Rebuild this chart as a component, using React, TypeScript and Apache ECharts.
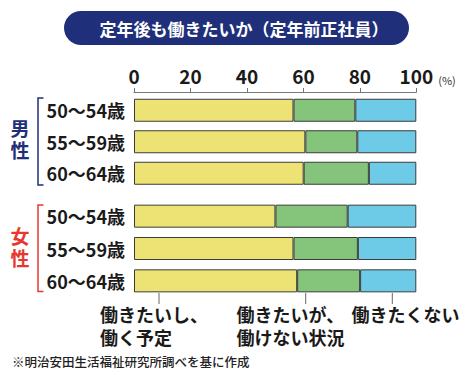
import React, { useEffect, useRef } from "react";
import * as echarts from "echarts";

const categories = ["50～54歳", "55～59歳", "60～64歳"];
const maleWork = [56.5, 60.7, 60.1];
const maleCant = [21.9, 18.4, 23.1];
const maleNot = [21.6, 20.9, 16.8];
const femaleWork = [50.1, 56.5, 57.8];
const femaleCant = [25.6, 22.8, 22.3];
const femaleNot = [24.3, 20.7, 19.9];
const seriesNames = ["働きたいし、働く予定", "働きたいが、働けない状況", "働きたくない"];
const colors = ["#ede375", "#84c47b", "#6ecbe7"];

const FONT = "'Noto Sans CJK JP', 'Noto Sans', sans-serif";

export default function App() {
  const ref = useRef<HTMLDivElement>(null);
  useEffect(() => {
    if (!ref.current) return;
    const chart = echarts.init(ref.current, null, { renderer: "svg" });
    const mk = (name: string, data: number[], idx: number, color: string) => ({
      type: "bar",
      name,
      stack: "s" + idx,
      xAxisIndex: idx,
      yAxisIndex: idx,
      data,
      barWidth: 23,
      itemStyle: { color, borderColor: "#3b3b3b", borderWidth: 1 },
    });
    const navy = "#1f2f7a";
    const red = "#e8382e";
    const ann = (t: string, x: number) => ({
      type: "text",
      x,
      y: 325.5,
      style: { text: t, fill: "#1a1a1a", font: `bold 18px ${FONT}`, lineHeight: 23, verticalAlign: "middle" },
    });
    const side = (t: string, y: number, c: string) => ({
      type: "text",
      x: 20,
      y,
      style: { text: t, fill: c, font: `bold 19px ${FONT}`, align: "center", verticalAlign: "middle", lineHeight: 22 },
    });
    chart.setOption({
      animation: false,
      backgroundColor: "#ffffff",
      grid: [
        { left: 134, right: 57.7, top: 94.5, height: 94.5 },
        { left: 134, right: 57.7, top: 200, height: 97 },
      ],
      xAxis: [
        {
          gridIndex: 0,
          type: "value",
          position: "top",
          min: 0,
          max: 100,
          interval: 20,
          offset: 2.5,
          axisLine: { show: true, lineStyle: { color: "#777", width: 1 } },
          axisTick: { show: true, length: 4, lineStyle: { color: "#777" } },
          axisLabel: { fontSize: 19, fontWeight: "bold", color: "#1a1a1a", fontFamily: FONT, margin: 7 },
          splitLine: { show: false },
        },
        { gridIndex: 1, type: "value", min: 0, max: 100, show: false },
      ],
      yAxis: [0, 1].map((i) => ({
        gridIndex: i,
        type: "category",
        inverse: true,
        data: categories,
        axisLine: { show: false },
        axisTick: { show: false },
        axisLabel: { fontSize: 18, fontWeight: "bold", color: "#1a1a1a", fontFamily: FONT, margin: 9 },
      })),
      series: [
        mk(seriesNames[0], maleWork, 0, colors[0]),
        mk(seriesNames[1], maleCant, 0, colors[1]),
        mk(seriesNames[2], maleNot, 0, colors[2]),
        mk(seriesNames[0], femaleWork, 1, colors[0]),
        mk(seriesNames[1], femaleCant, 1, colors[1]),
        mk(seriesNames[2], femaleNot, 1, colors[2]),
      ],
      graphic: [
        { type: "rect", shape: { x: 64, y: 11, width: 345, height: 34, r: 17 }, style: { fill: navy } },
        {
          type: "text",
          x: 244,
          y: 28,
          style: { text: "定年後も働きたいか（定年前正社員）", fill: "#fff", font: `bold 17px ${FONT}`, align: "center", verticalAlign: "middle" },
        },
        { type: "text", x: 447, y: 80, style: { text: "(%)", fill: "#333", font: `11px ${FONT}`, align: "center", verticalAlign: "middle" } },
        // male bracket
        { type: "polyline", shape: { points: [[43.5, 98], [38, 98], [38, 185], [43.5, 185]] }, style: { stroke: navy, lineWidth: 1.5, fill: null } },
        side("男\n性", 138, navy),
        // female bracket
        { type: "polyline", shape: { points: [[43.5, 205], [38, 205], [38, 291.5], [43.5, 291.5]] }, style: { stroke: red, lineWidth: 1.5, fill: null } },
        side("女\n性", 246, red),
        // annotation leader lines
        { type: "line", shape: { x1: 159, y1: 293, x2: 159, y2: 304 }, style: { stroke: "#666", lineWidth: 1 } },
        { type: "line", shape: { x1: 305.7, y1: 293, x2: 305.7, y2: 304 }, style: { stroke: "#666", lineWidth: 1 } },
        { type: "line", shape: { x1: 392.3, y1: 293, x2: 392.3, y2: 304 }, style: { stroke: "#666", lineWidth: 1 } },
        ann("働きたいし、\n働く予定", 100),
        ann("働きたいが、\n働けない状況", 236.5),
        { type: "text", x: 351.5, y: 314, style: { text: "働きたくない", fill: "#1a1a1a", font: `bold 18px ${FONT}`, verticalAlign: "middle" } },
        {
          type: "text",
          x: 12,
          y: 361,
          style: { text: "※明治安田生活福祉研究所調べを基に作成", fill: "#222", font: `500 12.5px ${FONT}`, verticalAlign: "middle" },
        },
      ],
    });
    return () => chart.dispose();
  }, []);
  return <div ref={ref} style={{ width: 474, height: 380, position: "absolute", left: 0, top: 0 }} />;
}
